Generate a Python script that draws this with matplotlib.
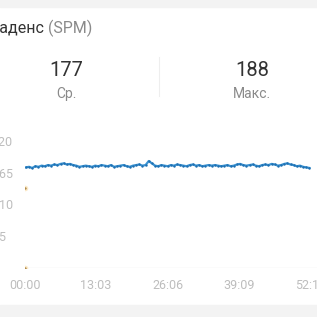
import matplotlib.pyplot as plt
from matplotlib.patches import Rectangle
from matplotlib.lines import Line2D

plt.rcParams['font.family'] = ['Roboto', 'DejaVu Sans']

# cadence samples (SPM), one every sample_step seconds from start_t
start_t = 15
sample_step = 34.5
cadence = [174, 175, 173, 176, 175, 177, 176, 178, 177, 179, 178, 180,
           181, 179, 180, 178, 177, 175, 176, 177, 176, 175, 177, 176, 178,
           177, 176, 178, 175, 176, 177, 178, 176, 175, 177, 178, 179, 177, 178,
           185, 181,
           177, 176, 178, 177, 176, 178, 177, 179, 178, 177, 176, 178, 179, 177, 178, 176, 177, 178,
           177, 178, 177, 176, 177, 178, 176, 177, 179, 180, 178, 177, 178, 179, 177, 176, 178, 179, 178,
           180, 179, 177, 178, 180, 181, 179, 178, 176, 177, 175, 174, 173]
times = [start_t + i * sample_step for i in range(len(cadence))]

# outlier samples at the very start
odd_t = [5, 5]
odd_v = [0, 139]

y_ticks = [0, 55, 110, 165, 220]
x_ticks = [0, 783, 1566, 2349, 3132]
x_labels = ['00:00', '13:03', '26:06', '39:09', '52:12']

avg_val, max_val = 177, 188

W = H = 317
fig = plt.figure(figsize=(W / 100, H / 100), dpi=100)
fig.patch.set_facecolor('white')

def fx(px):
    return px / W

def fy(py):
    return 1 - py / H

# grey bands top and bottom
fig.patches.append(Rectangle((0, fy(7)), 1, 7 / H, transform=fig.transFigure,
                             color='#f3f3f3', zorder=0))
fig.patches.append(Rectangle((0, 0), 1, 12 / H, transform=fig.transFigure,
                             color='#f3f3f3', zorder=0))

# header
fig.text(fx(-10), fy(28), 'Каденс', fontsize=11.5, color='#333333', va='center')
fig.text(fx(48), fy(28), '(SPM)', fontsize=11.5, color='#8a8a8a', va='center')

fig.text(fx(66), fy(71), str(avg_val), fontsize=14.5, color='#333333', ha='center', va='center')
fig.text(fx(66), fy(94), 'Ср.', fontsize=10, color='#8a8a8a', ha='center', va='center')
fig.text(fx(252), fy(71), str(max_val), fontsize=14.5, color='#333333', ha='center', va='center')
fig.text(fx(252), fy(94), 'Макс.', fontsize=10, color='#8a8a8a', ha='center', va='center')
fig.lines.append(Line2D([fx(159), fx(159)], [fy(57), fy(96)], transform=fig.transFigure,
                        color='#eeeeee', lw=0.8))

# chart
x0 = 24.5
ax = fig.add_axes([fx(x0), fy(268), 1 - fx(x0), 133 / H])
ax.set_xlim(0, (W - x0) * 783 / 71.5)
ax.set_ylim(0, 230)
ax.set_facecolor('none')
for s in ax.spines.values():
    s.set_visible(False)
ax.axhline(0, color='#eeeeee', lw=1.0, zorder=1)

ax.plot(times, cadence, color='#3a93d3', lw=1.6, zorder=3)
ax.scatter(times, cadence, s=3, color='#1f6fb0', zorder=4, linewidths=0)
ax.scatter(odd_t, odd_v, s=16, color='#fbe9c8', zorder=4, linewidths=0)
ax.scatter(odd_t, odd_v, s=3, color='#b08a4a', zorder=5, linewidths=0)

ax.set_yticks(y_ticks)
ax.set_yticklabels([str(v) for v in y_ticks])
ax.set_xticks(x_ticks)
ax.set_xticklabels(x_labels)
ax.tick_params(axis='both', length=0, colors='#bdbdbd', labelsize=9)
# labels are left aligned, starting just off the left edge
ax.tick_params(axis='y', pad=23.5)
for lab in ax.get_yticklabels():
    lab.set_horizontalalignment('left')
ax.tick_params(axis='x', pad=8)

fig.savefig('out.png', dpi=100)
